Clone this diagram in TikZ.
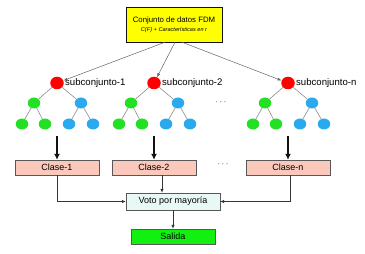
\documentclass[tikz,border=0pt]{standalone}
\usepackage{fontspec}
\setmainfont{Liberation Sans}
\usetikzlibrary{arrows.meta,positioning,shapes.geometric}
\definecolor{ink}{HTML}{111111}
\definecolor{rootred}{HTML}{FF0000}
\definecolor{leafgreen}{HTML}{22E022}
\definecolor{leafblue}{HTML}{2AAAEE}
\definecolor{topfill}{HTML}{FFFF00}
\definecolor{clsfill}{HTML}{FBC8BC}
\definecolor{votefill}{HTML}{E8F8F4}
\definecolor{outfill}{HTML}{11F011}

\begin{document}
\begin{tikzpicture}[x=1pt,y=-1pt,font=\fontsize{9}{10}\selectfont,>=Latex]
\tikzset{leaf/.style={ellipse,inner sep=0pt,minimum width=12.5pt,minimum height=11pt,draw=none}, rootdot/.style={leaf,fill=rootred,minimum width=13.5pt,minimum height=12.5pt}, gdot/.style={leaf,fill=leafgreen}, bdot/.style={leaf,fill=leafblue}, branch/.style={draw=ink!55,line width=0.5pt}, feed/.style={->,draw=ink!65,line width=0.5pt,>={Latex[length=4pt,width=3pt]}}, cls/.style={draw=ink!70,fill=clsfill,minimum width=84pt,minimum height=15pt,inner sep=0pt}, flow/.style={->,draw=ink!85,line width=0.7pt,>={Latex[length=4pt,width=3.5pt]}}, bigflow/.style={->,draw=ink,line width=1.6pt,>={Latex[length=6pt,width=6pt]}}}
\useasboundingbox (0,0) rectangle (365,254);
\node[draw=ink,fill=topfill,minimum width=96pt,minimum height=35pt,align=center,inner sep=0pt] (data) at (174,24.5) {{\fontsize{7.8}{9}\selectfont Conjunto de datos FDM}\\[-1pt]{\fontsize{5.6}{7}\selectfont\itshape C(F) + Características en r}};
\foreach \n/\cx in {1/57,2/154,n/288} {
  \node[rootdot] (r\n) at (\cx,83) {};
  \node[right=1pt of r\n,inner sep=0pt,font=\fontsize{9.6}{10}\selectfont] (s\n) {subconjunto-\n};
  \node[gdot] (g\n) at (\cx-23,103) {};
  \node[bdot] (b\n) at (\cx+24,103) {};
  \node[gdot] (ga\n) at (\cx-35,124) {};
  \node[gdot] (gb\n) at (\cx-12,124) {};
  \node[bdot] (ba\n) at (\cx+12,124) {};
  \node[bdot] (bb\n) at (\cx+36,124) {};
  \draw[branch] (r\n) -- (g\n) (r\n) -- (b\n);
  \draw[branch] (g\n) -- (ga\n) (g\n) -- (gb\n) (b\n) -- (ba\n) (b\n) -- (bb\n);
  \node[cls] (c\n) at (\cx,167.5) {Clase-\n};
  \coordinate (t\n) at (\cx,136);
  \draw[bigflow] (t\n) -- (c\n);
}
\draw[feed] ([xshift=-9pt]data.south) -- (r1);
\draw[feed] ([xshift=1pt]data.south) -- (r2);
\draw[feed] ([xshift=8pt]data.south) -- (rn);
\node (dots1) at (221,102) {$\cdots$};
\node (dots2) at (223,164) {$\cdots$};
\node[draw=ink!70,fill=votefill,minimum width=94pt,minimum height=17pt,inner sep=0pt] (vote) at (173,201.5) {Voto por mayoría};
\node[draw=ink!70,fill=outfill,minimum width=84pt,minimum height=15pt,inner sep=0pt] (out) at (173,236.5) {Salida};
\draw[flow] (c1.south) |- (vote.west);
\draw[flow] ([xshift=8pt]c2.south) -- ([xshift=8pt]c2.south |- vote.north);
\draw[flow] ([xshift=2pt]cn.south) |- (vote.east);
\draw[flow] (vote) -- (out);
\end{tikzpicture}
\end{document}
